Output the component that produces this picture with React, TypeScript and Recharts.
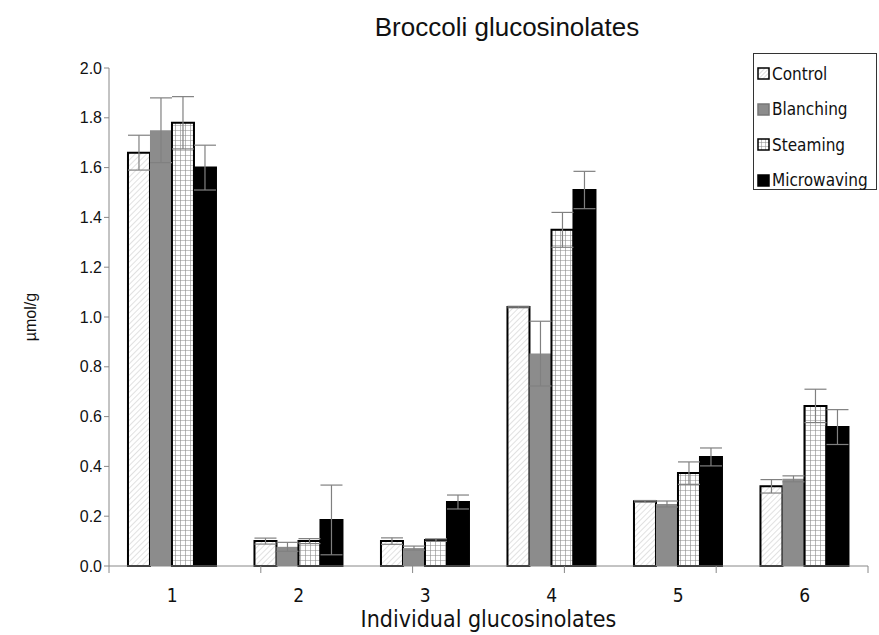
import { BarChart, Bar, XAxis, YAxis, ErrorBar, Label } from "recharts";

const categories = ["1", "2", "3", "4", "5", "6"];
const control = [1.66, 0.1, 0.1, 1.04, 0.26, 0.32];
const controlErr = [0.07, 0.012, 0.013, 0.003, 0.003, 0.027];
const blanching = [1.75, 0.077, 0.072, 0.853, 0.249, 0.35];
const blanchingErr = [0.13, 0.018, 0.008, 0.13, 0.012, 0.012];
const steaming = [1.78, 0.1, 0.104, 1.35, 0.373, 0.643];
const steamingErr = [0.105, 0.01, 0.005, 0.07, 0.045, 0.067];
const microwaving = [1.6, 0.185, 0.257, 1.51, 0.438, 0.558];
const microwavingErr = [0.09, 0.14, 0.028, 0.075, 0.036, 0.07];
const yTicks = [0, 0.2, 0.4, 0.6, 0.8, 1.0, 1.2, 1.4, 1.6, 1.8, 2.0];
const edgeTicks = [0, 1, 2, 3, 4, 5, 6];

const data = categories.map((c, i) => ({
  name: c,
  control: control[i],
  controlErr: controlErr[i],
  blanching: blanching[i],
  blanchingErr: blanchingErr[i],
  steaming: steaming[i],
  steamingErr: steamingErr[i],
  microwaving: microwaving[i],
  microwavingErr: microwavingErr[i],
}));

const narrow = '"Liberation Sans Narrow", "DejaVu Sans Condensed", sans-serif';
const arial = '"Liberation Sans", Arial, sans-serif';

const legendItems = [
  { label: "Control", fill: "url(#hatchL)", stroke: "#000" },
  { label: "Blanching", fill: "#8c8c8c", stroke: "#777" },
  { label: "Steaming", fill: "url(#gridL)", stroke: "#000" },
  { label: "Microwaving", fill: "#000", stroke: "#000" },
];

const LegendBox = () => (
  <div
    style={{
      position: "absolute",
      left: 753,
      top: 53,
      border: "1px solid #333",
      background: "#fff",
      width: 124,
      height: 137,
      boxSizing: "border-box",
      padding: "2px 0 0 3px",
      fontFamily: narrow,
      fontSize: 17,
      color: "#111",
    }}
  >
    <svg width={0} height={0} style={{ position: "absolute" }}>
      <defs>
        <pattern id="hatchL" patternUnits="userSpaceOnUse" width={3} height={3} patternTransform="rotate(45)">
          <rect width={3} height={3} fill="#fff" />
          <line x1={0} y1={0} x2={0} y2={3} stroke="#bbb" strokeWidth={1} />
        </pattern>
        <pattern id="gridL" patternUnits="userSpaceOnUse" width={4} height={4}>
          <rect width={4} height={4} fill="#fff" />
          <path d="M0 0 H4 M0 0 V4" stroke="#888" strokeWidth={1} fill="none" />
        </pattern>
      </defs>
    </svg>
    {legendItems.map((it) => (
      <div key={it.label} style={{ display: "flex", alignItems: "center", height: 35.5 }}>
        <svg width={13} height={13} style={{ marginRight: 2 }}>
          <rect x={1} y={1} width={11} height={11} fill={it.fill} stroke={it.stroke} strokeWidth={1.5} />
        </svg>
        <span>{it.label}</span>
      </div>
    ))}
  </div>
);

export default function App() {
  return (
    <div style={{ position: "absolute", left: 0, top: 0, width: 879, height: 635, background: "#fff" }}>
      <div
        style={{
          position: "absolute",
          left: 0,
          width: 1014,
          top: 12,
          textAlign: "center",
          fontFamily: arial,
          fontSize: 26,
          color: "#111",
        }}
      >
        Broccoli glucosinolates
      </div>
      <BarChart
        width={879}
        height={635}
        data={data}
        margin={{ top: 68, right: 11, bottom: 0, left: 0 }}
        barCategoryGap="15%"
        barGap={0}
      >
        <defs>
          <pattern id="hatch" patternUnits="userSpaceOnUse" width={4} height={4} patternTransform="rotate(45)">
            <rect width={4} height={4} fill="#fff" />
            <line x1={0} y1={0} x2={0} y2={4} stroke="#c4c4c4" strokeWidth={1} />
          </pattern>
          <pattern id="grid" patternUnits="userSpaceOnUse" width={5} height={5}>
            <rect width={5} height={5} fill="#fff" />
            <path d="M0 0 H5 M0 0 V5" stroke="#8a8a8a" strokeWidth={1.2} fill="none" />
          </pattern>
        </defs>
        <XAxis
          xAxisId="a-edge"
          type="number"
          domain={[0, 6]}
          ticks={edgeTicks}
          tick={() => <g />}
          interval={0}
          height={7}
          tickSize={7}
          axisLine={{ stroke: "#888" }}
          tickLine={{ stroke: "#888" }}
        />
        <XAxis
          xAxisId="b-cat"
          dataKey="name"
          height={62}
          axisLine={false}
          tickLine={false}
          tick={{ fontFamily: narrow, fontSize: 19, fill: "#111", dy: 8 }}
        >
          <Label
            value="Individual glucosinolates"
            position="insideBottom"
            offset={8}
            style={{ fontFamily: narrow, fontSize: 23, fill: "#111" }}
          />
        </XAxis>
        <YAxis
          width={109}
          domain={[0, 2]}
          ticks={yTicks}
          tickFormatter={(v: number) => v.toFixed(1)}
          tick={{ fontFamily: arial, fontSize: 16, fill: "#111" }}
          tickSize={5}
          axisLine={{ stroke: "#888" }}
          tickLine={{ stroke: "#888" }}
          interval={0}
        >
          <Label
            value="µmol/g"
            angle={-90}
            position="insideLeft"
            offset={30}
            style={{ fontFamily: arial, fontSize: 16, fill: "#111", textAnchor: "middle" }}
          />
        </YAxis>
        <Bar xAxisId="b-cat" dataKey="control" name="Control" fill="url(#hatch)" stroke="#000" strokeWidth={2} isAnimationActive={false}>
          <ErrorBar dataKey="controlErr" stroke="#808080" width={11} strokeWidth={1.2} />
        </Bar>
        <Bar xAxisId="b-cat" dataKey="blanching" name="Blanching" fill="#8c8c8c" isAnimationActive={false}>
          <ErrorBar dataKey="blanchingErr" stroke="#808080" width={11} strokeWidth={1.2} />
        </Bar>
        <Bar xAxisId="b-cat" dataKey="steaming" name="Steaming" fill="url(#grid)" stroke="#000" strokeWidth={2} isAnimationActive={false}>
          <ErrorBar dataKey="steamingErr" stroke="#808080" width={11} strokeWidth={1.2} />
        </Bar>
        <Bar xAxisId="b-cat" dataKey="microwaving" name="Microwaving" fill="#000" stroke="#000" strokeWidth={2} isAnimationActive={false}>
          <ErrorBar dataKey="microwavingErr" stroke="#808080" width={11} strokeWidth={1.2} />
        </Bar>
      </BarChart>
      <LegendBox />
    </div>
  );
}
